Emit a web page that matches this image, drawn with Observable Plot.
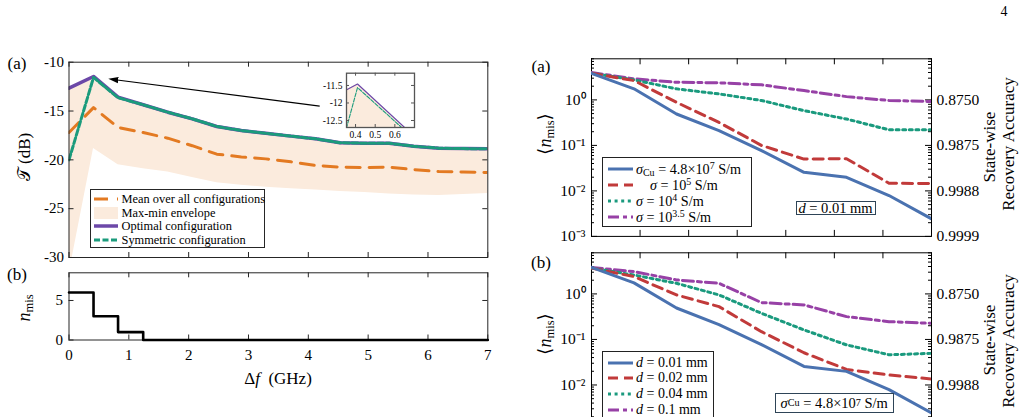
<!DOCTYPE html>
<html>
<head>
<meta charset="utf-8">
<script src="https://cdn.jsdelivr.net/npm/d3@7"></script>
<script src="https://cdn.jsdelivr.net/npm/@observablehq/plot@0.6"></script>
<style>
  html, body { margin: 0; padding: 0; background: #fff; overflow: hidden; }
  #fig { position: relative; width: 1026px; height: 417px; overflow: hidden;
         font-family: "Liberation Serif", "DejaVu Serif", serif; color: #000; background: #fff; }
  .lbl { position: absolute; white-space: nowrap; line-height: 1; font-family: "Liberation Serif", "DejaVu Serif", serif; }
  .legend { position: absolute; background: #fff; box-sizing: border-box; font-family: "Liberation Serif", "DejaVu Serif", serif; }
  .legend .row { position: absolute; white-space: nowrap; line-height: 1; transform: translateY(-50%); }
  .legend svg { position: absolute; }
  sub, sup { font-size: 0.7em; line-height: 0; }
  sub { vertical-align: -0.25em; }
  sup { vertical-align: 0.5em; }
</style>
</head>
<body>
<div id="fig"></div>
<script>
// ---------- Left: transmission vs. frequency spacing ----------
const freqGHz = [0, 0.41, 0.82, 1.24, 1.65, 2.06, 2.47, 2.88, 3.29, 3.71, 4.12, 4.53, 4.94, 5.35, 5.76, 6.18, 6.59, 7.0];
const optimalDB = [-12.66, -11.46, -13.58, -14.36, -15.12, -15.8, -16.58, -17.0, -17.28, -17.57, -17.84, -18.25, -18.3, -18.3, -18.6, -18.8, -18.85, -18.87];
const symmetricDB = [-20.0, -11.56, -13.64, -14.36, -15.12, -15.8, -16.58, -17.0, -17.28, -17.57, -17.84, -18.25, -18.3, -18.3, -18.6, -18.8, -18.85, -18.87];
const meanDB = [-17.2, -14.65, -16.68, -17.2, -17.78, -18.55, -19.42, -19.7, -19.9, -20.2, -20.57, -20.74, -20.78, -20.75, -21.0, -21.2, -21.25, -21.3];
const envMinDB = [-31.7, -18.85, -20.5, -20.9, -21.25, -21.8, -22.35, -22.6, -22.8, -22.95, -23.1, -23.25, -23.35, -23.5, -23.6, -23.65, -23.55, -23.45];
const envMaxDB = optimalDB;
const mismatchCount = [6, 3, 1, 0, 0, 0, 0, 0, 0, 0, 0, 0, 0, 0, 0, 0, 0, 0];
// arrow pointing from the zoomed inset to the peak
const arrowFrom = {f: 4.19, t: -14.5};
const arrowTo = {f: 0.74, t: -11.77};

// ---------- Right: mean mismatch count over the sweep ----------
const sweepStep = [0, 1, 2, 3, 4, 5, 6, 7, 8];
const nCopper = [3.84, 1.75, 0.49, 0.211, 0.0769, 0.0256, 0.0199, 0.0079, 0.00243];
const nSigma5 = [3.84, 2.66, 0.885, 0.32, 0.1, 0.05, 0.051, 0.0147, 0.0145];
const nSigma4 = [3.84, 2.75, 1.75, 1.35, 0.97, 0.58, 0.38, 0.22, 0.22];
const nSigma35 = [4.0, 2.9, 2.44, 2.37, 2.14, 1.6, 1.18, 0.97, 0.92];
const nD001 = nCopper;
const nD002 = [3.7, 2.4, 0.95, 0.525, 0.148, 0.051, 0.022, 0.0166, 0.0135];
const nD004 = [3.7, 2.6, 1.71, 0.95, 0.375, 0.162, 0.076, 0.046, 0.0495];
const nD01 = [3.8, 3.09, 2.03, 1.71, 0.644, 0.573, 0.317, 0.246, 0.226];
const decades = [0.001, 0.01, 0.1, 1];
const decadeLabels = ["10⁻³", "10⁻²", "10⁻¹", "10⁰"];
const accuracyLabels = ["0.9999", "0.9988", "0.9875", "0.8750"];

// ---------- styling ----------
const FONT = "Liberation Serif";
const C = {
  purple: "#6c48a8", teal: "#1b9b7c", orange: "#e37a22", env: "#fbebdd",
  blue: "#4a72b0", red: "#c13a3a", green: "#1a9a7e", magenta: "#9741a6",
  axis: "#262626", box: "#2e4457"
};
const fig = document.getElementById("fig");

function place(node, left, top, w, h) {
  const d = document.createElement("div");
  d.style.cssText = `position:absolute;left:${left}px;top:${top}px;width:${w}px;height:${h}px;`;
  d.appendChild(node);
  fig.appendChild(d);
}
function label(html, cx, cy, size, rotate = false) {
  const d = document.createElement("div");
  d.className = "lbl";
  d.innerHTML = html;
  d.style.left = cx + "px";
  d.style.top = cy + "px";
  d.style.fontSize = size + "px";
  d.style.transform = `translate(-50%,-50%)${rotate ? " rotate(-90deg)" : ""}`;
  fig.appendChild(d);
}
// inward frame ticks (top/bottom for x, left/right for y)
function frameTicks({W, H, mt, mb, ml, mr, xTicks, yTicks, yMinor, len = 5, minorLen = 3, stroke = "#000"}) {
  const fh = H - mt - mb, fw = W - ml - mr, m = [];
  if (xTicks) m.push(
    Plot.tickX(xTicks, {insetBottom: fh - len, stroke}),
    Plot.tickX(xTicks, {insetTop: fh - len, stroke}));
  if (yTicks) m.push(
    Plot.tickY(yTicks, {insetRight: fw - len, stroke}),
    Plot.tickY(yTicks, {insetLeft: fw - len, stroke}));
  if (yMinor) m.push(
    Plot.tickY(yMinor, {insetRight: fw - minorLen, stroke}),
    Plot.tickY(yMinor, {insetLeft: fw - minorLen, stroke}));
  return m;
}
function filledArrow(color) {
  const m = d3.create("svg:marker")
    .attr("viewBox", "-5 -5 10 10")
    .attr("markerWidth", 10).attr("markerHeight", 10)
    .attr("markerUnits", "userSpaceOnUse")
    .attr("orient", "auto")
    .attr("fill", color).attr("stroke", "none");
  m.append("path").attr("d", "M-5,-3.2L5,0L-5,3.2Z");
  return m.node();
}
const baseStyle = {fontFamily: FONT, fontSize: "15px", background: "transparent", overflow: "visible", color: "#000"};

// rows for the left panels
const leftRows = freqGHz.map((f, i) => ({
  f, opt: optimalDB[i], sym: symmetricDB[i], mean: meanDB[i], lo: envMinDB[i], hi: envMaxDB[i], n: mismatchCount[i]
}));

// ---- left (a): transmission ----
{
  const W = 500, H = 265, ml = 68.5, mr = 12.7, mt = 61.7, mb = 8;
  const p = Plot.plot({
    width: W, height: H, marginLeft: ml, marginRight: mr, marginTop: mt, marginBottom: mb,
    style: baseStyle,
    x: {domain: [0, 7], axis: null},
    y: {domain: [-30, -10], axis: null},
    marks: [
      Plot.areaY(leftRows, {x: "f", y1: "lo", y2: "hi", fill: C.env, clip: true}),
      Plot.line(leftRows, {x: "f", y: "mean", stroke: C.orange, strokeWidth: 3, strokeDasharray: "14,9", clip: true}),
      Plot.line(leftRows, {x: "f", y: "opt", stroke: C.purple, strokeWidth: 3.5, clip: true}),
      Plot.line(leftRows, {x: "f", y: "sym", stroke: C.teal, strokeWidth: 3, strokeDasharray: "6,2.5", clip: true}),
      Plot.link([{}], {x1: () => arrowFrom.f, y1: () => arrowFrom.t, x2: () => arrowTo.f, y2: () => arrowTo.t,
        stroke: "#000", strokeWidth: 1.1, markerEnd: filledArrow}),
      Plot.frame({stroke: C.axis}),
      ...frameTicks({W, H, mt, mb, ml, mr, xTicks: d3.range(0, 8), yTicks: [-30, -25, -20, -15, -10], stroke: C.axis}),
      Plot.axisY([-30, -25, -20, -15, -10], {anchor: "left", tickSize: 0, tickPadding: 5, tickFormat: d => String(d), fontSize: 15, label: null})
    ]
  });
  place(p, 0, 0, W, H);
}

// ---- left (a) inset: zoom on the peak ----
{
  const W = 120, H = 85, ml = 46, mr = 6, mt = 12.7, mb = 18;
  const p = Plot.plot({
    width: W, height: H, marginLeft: ml, marginRight: mr, marginTop: mt, marginBottom: mb,
    style: {...baseStyle, fontSize: "9.5px"},
    x: {domain: [0.354, 0.70], axis: null},
    y: {domain: [-12.7, -11.15], axis: null},
    marks: [
      Plot.frame({fill: "#fff"}),
      Plot.areaY(leftRows, {x: "f", y1: "lo", y2: "hi", fill: C.env, clip: true}),
      Plot.line(leftRows, {x: "f", y: "opt", stroke: C.purple, strokeWidth: 1.2, clip: true}),
      Plot.line(leftRows, {x: "f", y: "sym", stroke: C.teal, strokeWidth: 1.1, strokeDasharray: "4,1.5", clip: true}),
      Plot.frame({stroke: "#555", strokeWidth: 1.3}),
      ...frameTicks({W, H, mt, mb, ml, mr, xTicks: [0.4, 0.5, 0.6], yTicks: [-12.5, -12, -11.5], len: 3, stroke: "#555"}),
      Plot.axisY([-12.5, -12, -11.5], {anchor: "left", tickSize: 0, tickPadding: 4, tickFormat: d => String(d), fontSize: 9.5, label: null}),
      Plot.axisX([0.4, 0.5, 0.6], {anchor: "bottom", tickSize: 0, tickPadding: 4, tickFormat: d => d.toFixed(1), fontSize: 9.5, label: null})
    ]
  });
  place(p, 300, 60, W, H);
}

// ---- left (b): number of mismatches ----
{
  const W = 500, H = 110, ml = 68.5, mr = 12.7, mt = 7.3, mb = 35.5;
  const p = Plot.plot({
    width: W, height: H, marginLeft: ml, marginRight: mr, marginTop: mt, marginBottom: mb,
    style: baseStyle,
    x: {domain: [0, 7], axis: null},
    y: {domain: [0, 8.5], axis: null},
    marks: [
      Plot.frame({stroke: C.axis}),
      ...frameTicks({W, H, mt, mb, ml, mr, xTicks: d3.range(0, 8), yTicks: [0, 5], stroke: C.axis}),
      Plot.line(leftRows, {x: "f", y: "n", curve: "step-after", stroke: "#000", strokeWidth: 2.6}),
      Plot.axisY([0, 5], {anchor: "left", tickSize: 0, tickPadding: 6, fontSize: 15, label: null}),
      Plot.axisX(d3.range(0, 8), {anchor: "bottom", tickSize: 0, tickPadding: 9, fontSize: 15, label: null})
    ]
  });
  place(p, 0, 265, W, H);
}

// ---- right panels ----
function mismatchPanel(series, top, H, mt, mb, labelled) {
  const W = 506, ml = 71, mr = 95;
  const minor = [];
  for (const d of decades) for (let k = 2; k <= 9; k++) if (k * d <= 8) minor.push(k * d);
  const marks = [
    Plot.frame({stroke: "#000"}),
    ...frameTicks({W, H, mt, mb, ml, mr, xTicks: d3.range(8).map(i => i * 8 / 7), yTicks: decades, yMinor: minor, len: 6, minorLen: 3})
  ];
  for (const s of series) {
    const rows = sweepStep.map((x, i) => ({x, n: s.values[i]}));
    marks.push(Plot.line(rows, {x: "x", y: "n", stroke: s.color, strokeWidth: 3, strokeDasharray: s.dash, clip: true}));
  }
  marks.push(
    Plot.axisY(labelled, {anchor: "left", tickSize: 0, tickPadding: 6, tickFormat: d => decadeLabels[decades.indexOf(d)], fontSize: 15.5, label: null}),
    Plot.axisY(labelled, {anchor: "right", tickSize: 0, tickPadding: 5, tickFormat: d => accuracyLabels[decades.indexOf(d)], fontSize: 15.5, label: null})
  );
  const p = Plot.plot({
    width: W, height: H, marginLeft: ml, marginRight: mr, marginTop: mt, marginBottom: mb,
    style: baseStyle,
    x: {domain: [0, 8], axis: null},
    y: {type: "log", domain: [0.001, 8], axis: null},
    marks
  });
  place(p, 520, top, W, H);
}
const DASH = {solid: null, dashed: "10,6", dotted: "3,3.6", dashdot: "11,4,4,4"};
mismatchPanel([
  {values: nSigma35, color: C.magenta, dash: DASH.dashdot},
  {values: nSigma4, color: C.green, dash: DASH.dotted},
  {values: nSigma5, color: C.red, dash: DASH.dashed},
  {values: nCopper, color: C.blue, dash: DASH.solid}
], 0, 250, 58.3, 14.1, decades);
mismatchPanel([
  {values: nD01, color: C.magenta, dash: DASH.dashdot},
  {values: nD004, color: C.green, dash: DASH.dotted},
  {values: nD002, color: C.red, dash: DASH.dashed},
  {values: nD001, color: C.blue, dash: DASH.solid}
], 240, 200, 12.3, 10, decades.slice(1));

// ---------- legends ----------
function legend({left, top, width, height, border, openBottom = false, fontSize, rows}) {
  const box = document.createElement("div");
  box.className = "legend";
  box.style.cssText += `left:${left}px;top:${top}px;width:${width}px;height:${height}px;border:1px solid ${border};font-size:${fontSize}px;`;
  if (openBottom) box.style.borderBottom = "none";
  for (const r of rows) {
    const w = r.x1 - r.x0;
    const svg = d3.create("svg").attr("width", w).attr("height", 12)
      .style("left", r.x0 + "px").style("top", (r.y - 6) + "px");
    if (r.fill) svg.append("rect").attr("x", 0).attr("y", 0).attr("width", w).attr("height", 12).attr("fill", r.fill);
    else svg.append("line").attr("x1", 0).attr("x2", w).attr("y1", 6).attr("y2", 6)
      .attr("stroke", r.stroke).attr("stroke-width", r.width).attr("stroke-dasharray", r.dash);
    box.appendChild(svg.node());
    const t = document.createElement("div");
    t.className = "row";
    t.innerHTML = r.html;
    t.style.left = r.tx + "px";
    t.style.top = r.y + "px";
    box.appendChild(t);
  }
  fig.appendChild(box);
}
legend({left: 90, top: 189.3, width: 174.5, height: 58.6, border: C.axis, fontSize: 12.4, rows: [
  {y: 9, x0: 3, x1: 27, tx: 30.5, stroke: C.orange, width: 3, dash: "14,9", html: "Mean over all configurations"},
  {y: 22.6, x0: 3, x1: 27, tx: 30.5, fill: C.env, html: "Max-min envelope"},
  {y: 36.2, x0: 3, x1: 27, tx: 30.5, stroke: C.purple, width: 3.5, html: "Optimal configuration"},
  {y: 49.8, x0: 3, x1: 27, tx: 30.5, stroke: C.teal, width: 3, dash: "6,2.5", html: "Symmetric configuration"}
]});
legend({left: 602, top: 157.3, width: 150, height: 69.5, border: "#222", fontSize: 14.2, rows: [
  {y: 11, x0: 5, x1: 30, tx: 33, stroke: C.blue, width: 3, html: "<i>σ</i><sub>Cu</sub> = 4.8×10<sup>7</sup> S/m"},
  {y: 26.8, x0: 5, x1: 30, tx: 47, stroke: C.red, width: 3, dash: DASH.dashed, html: "<i>σ</i> = 10<sup>5</sup> S/m"},
  {y: 42.6, x0: 5, x1: 30, tx: 33, stroke: C.green, width: 3, dash: DASH.dotted, html: "<i>σ</i> = 10<sup>4</sup> S/m"},
  {y: 58.4, x0: 5, x1: 30, tx: 33, stroke: C.magenta, width: 3, dash: DASH.dashdot, html: "<i>σ</i> = 10<sup>3.5</sup> S/m"}
]});
legend({left: 602, top: 351, width: 112, height: 66, border: "#222", openBottom: true, fontSize: 14, rows: [
  {y: 10.5, x0: 5, x1: 30, tx: 33, stroke: C.blue, width: 3, html: "<i>d</i> = 0.01 mm"},
  {y: 26.3, x0: 5, x1: 30, tx: 33, stroke: C.red, width: 3, dash: DASH.dashed, html: "<i>d</i> = 0.02 mm"},
  {y: 42.1, x0: 5, x1: 30, tx: 33, stroke: C.green, width: 3, dash: DASH.dotted, html: "<i>d</i> = 0.04 mm"},
  {y: 57.6, x0: 5, x1: 30, tx: 33, stroke: C.magenta, width: 3, dash: DASH.dashdot, html: "<i>d</i> = 0.1 mm"}
]});

// boxed parameter notes
function note(html, left, top, width, height, size) {
  const d = document.createElement("div");
  d.className = "lbl";
  d.innerHTML = html;
  d.style.cssText += `left:${left}px;top:${top}px;width:${width}px;height:${height}px;box-sizing:border-box;border:1.3px solid ${C.box};background:#fff;font-size:${size}px;display:flex;align-items:center;justify-content:center;`;
  fig.appendChild(d);
}
note("<i>d</i>&nbsp;= 0.01 mm", 795.5, 200.8, 80, 14.5, 14.5);
note("<i>σ</i><sub>Cu</sub>&nbsp;= 4.8×10<sup>7</sup>&nbsp;S/m", 775, 393.3, 118.5, 19.5, 14.5);

// ---------- axis titles, panel tags, page number ----------
label("𝒯 (dB)", 24, 157, 17, true);
label("<i>n</i><sub>mis</sub>", 24, 308, 18, true);
label("Δ<i>f</i>&nbsp; (GHz)", 278, 378, 17);
label("⟨<i>n</i><sub>mis</sub>⟩", 545, 134, 18, true);
label("⟨<i>n</i><sub>mis</sub>⟩", 545, 334, 18, true);
label("State-wise", 989, 147, 17, true);
label("Recovery Accuracy", 1008, 144, 17, true);
label("State-wise", 989, 340, 17, true);
label("Recovery Accuracy", 1008, 341, 17, true);
label("(a)", 17, 62.5, 17);
label("(b)", 17, 273.5, 17);
label("(a)", 541, 65.5, 17);
label("(b)", 541, 262, 17);
label("4", 1004, 12, 14);
</script>
</body>
</html>
